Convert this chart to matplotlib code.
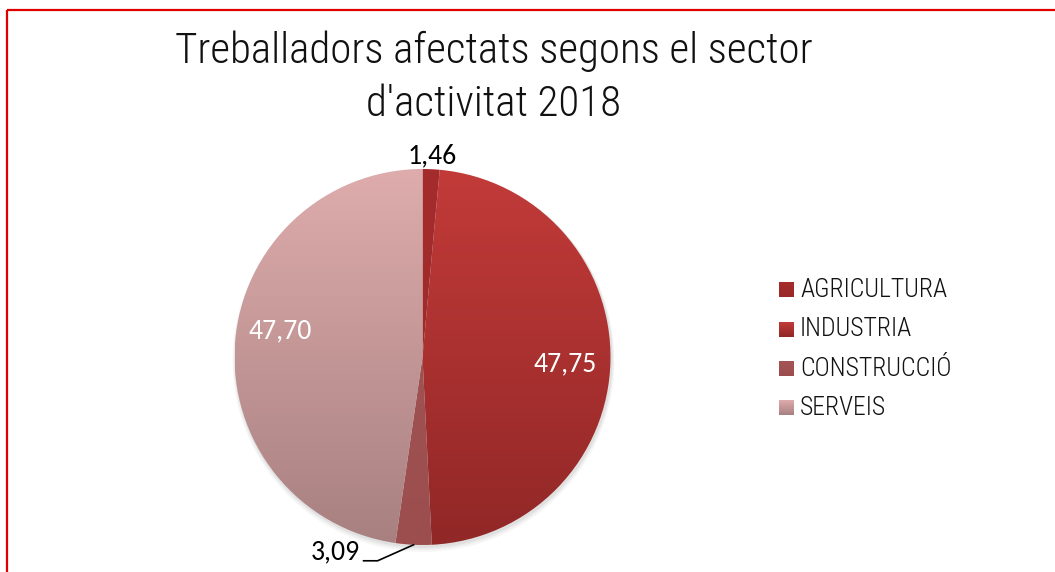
import numpy as np
import matplotlib.pyplot as plt
import matplotlib.colors as mcolors

# data
sectors = ["AGRICULTURA", "INDUSTRIA", "CONSTRUCCIÓ", "SERVEIS"]
values = [1.46, 47.75, 3.09, 47.70]
labels = ["1,46", "47,75", "3,09", "47,70"]
# gradient colours (top, bottom) per slice
tops = ["#A52C2C", "#C23B39", "#A45454", "#DEACAC"]
bottoms = ["#9A2828", "#912727", "#9C4E4E", "#A88080"]

W, H = 1055, 572
fig = plt.figure(figsize=(W / 100, H / 100), dpi=100)
ax = fig.add_axes([0, 0, 1, 1])

cx, cy, R = 422.5, H - 357, 188

# soft shadow
for i, a in enumerate([0.05, 0.04, 0.03]):
    sh = plt.Circle((cx + 1, cy - 2 - i), R + 1 + i, color="black", alpha=a, lw=0, zorder=1)
    ax.add_patch(sh)

wedges, _ = ax.pie(values, startangle=90, counterclock=False, center=(cx, cy),
                   radius=R, colors=["none"] * 4, wedgeprops=dict(lw=0),
                   frame=True)
ax.set_xlim(0, W)
ax.set_ylim(0, H)
ax.set_aspect("equal")
ax.axis("off")

# red frame (top and left only visible)
ax.plot([7, W], [H - 10, H - 10], color="#E00000", lw=1.6, solid_capstyle="butt")
ax.plot([7, 7], [0, H - 10], color="#E00000", lw=1.6, solid_capstyle="butt")

grad = np.linspace(0, 1, 256)[:, None]
for w, t, b in zip(wedges, tops, bottoms):
    cmap = mcolors.LinearSegmentedColormap.from_list("g", [b, t])
    im = ax.imshow(grad, cmap=cmap, origin="lower", aspect="auto",
                   extent=[cx - R, cx + R, cy - R, cy + R], zorder=2)
    im.set_clip_path(w)
    w.set_zorder(3)

# data labels
lab_font = ["Carlito", "DejaVu Sans"]
for i, (w, lab) in enumerate(zip(wedges, labels)):
    ang = np.deg2rad((w.theta1 + w.theta2) / 2)
    if i == 0:
        ax.text(cx + 1.07 * R * np.cos(ang), cy + 1.07 * R * np.sin(ang), lab,
                ha="center", va="center", fontsize=20, family=lab_font, color="black", zorder=5)
    elif i == 2:
        px, py = cx + R * np.cos(ang), cy + R * np.sin(ang)
        ex, ey = px - 36, py - 16
        ax.plot([px, ex, ex - 14], [py, ey, ey], color="black", lw=1.2, zorder=5)
        ax.text(ex - 18, ey + 9, lab, ha="right", va="center", fontsize=20,
                family=lab_font, color="black", zorder=5)
    else:
        dy = -4 if i == 1 else 16
        ax.text(cx + 0.76 * R * np.cos(ang), cy + 0.76 * R * np.sin(ang) + dy, lab,
                ha="center", va="center", fontsize=20, family=lab_font, color="white", zorder=5)

title_font = ["Roboto Condensed", "DejaVu Sans"]
ax.text(494, H - 51, "Treballadors afectats segons el sector", ha="center", va="center",
        fontsize=31, family=title_font, weight="light", color="#111111")
ax.text(494, H - 104, "d'activitat 2018", ha="center", va="center",
        fontsize=31, family=title_font, weight="light", color="#111111")

# legend
for k, (name, t, b) in enumerate(zip(sectors, tops, bottoms)):
    ly = H - (290 + k * 39.3)
    cmap = mcolors.LinearSegmentedColormap.from_list("g", [b, t])
    ax.imshow(grad, cmap=cmap, origin="lower", aspect="auto",
              extent=[779, 794, ly - 7.5, ly + 7.5], zorder=4)
    ax.text(800, ly, name, ha="left", va="center", fontsize=18.5,
            family=title_font, weight="light", color="#111111")

fig.savefig("out.png", dpi=100)
